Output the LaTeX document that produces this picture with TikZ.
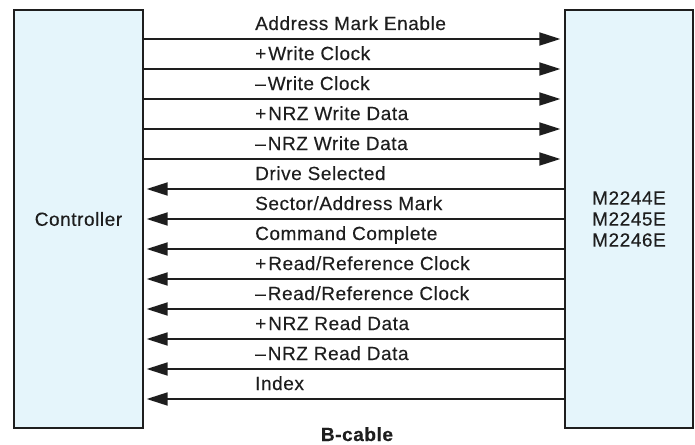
\documentclass[tikz,border=0pt]{standalone}
\usepackage{fontspec}
\setmainfont{Liberation Sans}[LetterSpace=3,FakeBold=0.3]
\usetikzlibrary{arrows.meta}
\definecolor{boxfill}{RGB}{229,245,251}
\definecolor{ink}{RGB}{30,30,30}
\begin{document}
\begin{tikzpicture}[x=1pt,y=-1pt,
  font=\fontsize{19}{21}\selectfont,
  box/.style={draw=ink, line width=1.3pt, fill=boxfill, inner sep=0pt},
  sig/.style={draw=ink, line width=1.8pt},
  rsig/.style={sig, -{Triangle[length=21pt,width=13pt]}, shorten >=4pt},
  lsig/.style={sig, -{Triangle[length=21pt,width=13pt]}, shorten >=3pt},
  lab/.style={anchor=base west, inner sep=0pt, text=ink}]
\useasboundingbox (0,0) rectangle (695,444);
\node[box, minimum width=129pt, minimum height=418pt, text=ink] (ctrl) at (78.5,219) {Controller};
\node[box, minimum width=128pt, minimum height=418pt, align=center, text=ink] (drv) at (629,219) {M2244E\\M2245E\\M2246E};
% rows
\foreach \k in {0,...,12}{\coordinate (r\k) at (0,{39+30*\k});\coordinate (t\k) at (255,{30+30*\k});}
\draw[rsig] (ctrl.east |- r0) -- (drv.west |- r0);
\draw[rsig] (ctrl.east |- r1) -- (drv.west |- r1);
\draw[rsig] (ctrl.east |- r2) -- (drv.west |- r2);
\draw[rsig] (ctrl.east |- r3) -- (drv.west |- r3);
\draw[rsig] (ctrl.east |- r4) -- (drv.west |- r4);
\draw[lsig] (drv.west |- r5) -- (ctrl.east |- r5);
\draw[lsig] (drv.west |- r6) -- (ctrl.east |- r6);
\draw[lsig] (drv.west |- r7) -- (ctrl.east |- r7);
\draw[lsig] (drv.west |- r8) -- (ctrl.east |- r8);
\draw[lsig] (drv.west |- r9) -- (ctrl.east |- r9);
\draw[lsig] (drv.west |- r10) -- (ctrl.east |- r10);
\draw[lsig] (drv.west |- r11) -- (ctrl.east |- r11);
\draw[lsig] (drv.west |- r12) -- (ctrl.east |- r12);
\node[lab] (l0) at (t0) {Address Mark Enable};
\node[lab] (l1) at (t1) {+\kern2pt Write Clock};
\node[lab] (l2) at (t2) {\textendash\kern2pt Write Clock};
\node[lab] (l3) at (t3) {+\kern2pt NRZ Write Data};
\node[lab] (l4) at (t4) {\textendash\kern2pt NRZ Write Data};
\node[lab] (l5) at (t5) {Drive Selected};
\node[lab] (l6) at (t6) {Sector/Address Mark};
\node[lab] (l7) at (t7) {Command Complete};
\node[lab] (l8) at (t8) {+\kern2pt Read/Reference Clock};
\node[lab] (l9) at (t9) {\textendash\kern2pt Read/Reference Clock};
\node[lab] (l10) at (t10) {+\kern2pt NRZ Read Data};
\node[lab] (l11) at (t11) {\textendash\kern2pt NRZ Read Data};
\node[lab] (l12) at (t12) {Index};
\node[anchor=base, inner sep=0pt, text=ink, font=\fontsize{19}{23}\selectfont\bfseries] (cap) at (357,441) {B-cable};
\end{tikzpicture}
\end{document}
